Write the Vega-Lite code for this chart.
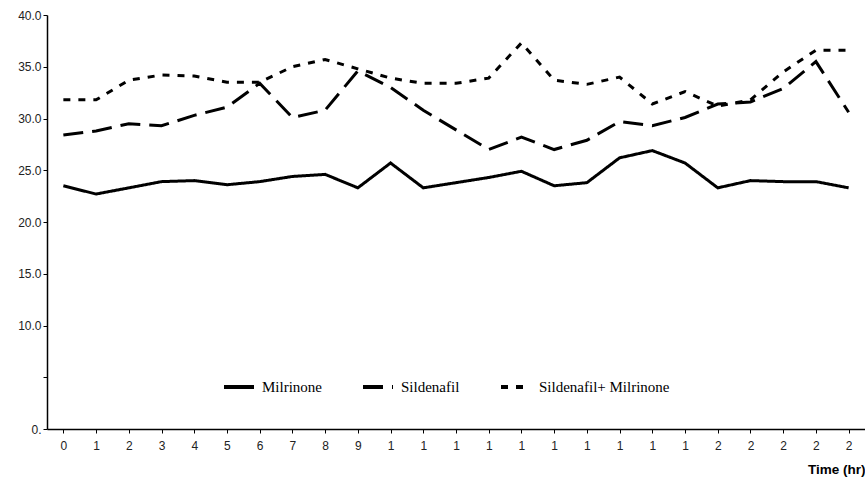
{
  "$schema": "https://vega.github.io/schema/vega-lite/v6.json",
  "autosize": {"type": "none"},
  "padding": {"left": 47, "top": 15, "right": 0, "bottom": 51},
  "width": 818,
  "height": 414,
  "background": "white",
  "config": {"view": {"stroke": null}},
  "datasets": {
    "d": [
      {"t": 0, "g": "Milrinone", "v": 23.5}, {"t": 1, "g": "Milrinone", "v": 22.7}, {"t": 2, "g": "Milrinone", "v": 23.3},
      {"t": 3, "g": "Milrinone", "v": 23.9}, {"t": 4, "g": "Milrinone", "v": 24.0}, {"t": 5, "g": "Milrinone", "v": 23.6},
      {"t": 6, "g": "Milrinone", "v": 23.9}, {"t": 7, "g": "Milrinone", "v": 24.4}, {"t": 8, "g": "Milrinone", "v": 24.6},
      {"t": 9, "g": "Milrinone", "v": 23.3}, {"t": 10, "g": "Milrinone", "v": 25.7}, {"t": 11, "g": "Milrinone", "v": 23.3},
      {"t": 12, "g": "Milrinone", "v": 23.8}, {"t": 13, "g": "Milrinone", "v": 24.3}, {"t": 14, "g": "Milrinone", "v": 24.9},
      {"t": 15, "g": "Milrinone", "v": 23.5}, {"t": 16, "g": "Milrinone", "v": 23.8}, {"t": 17, "g": "Milrinone", "v": 26.2},
      {"t": 18, "g": "Milrinone", "v": 26.9}, {"t": 19, "g": "Milrinone", "v": 25.7}, {"t": 20, "g": "Milrinone", "v": 23.3},
      {"t": 21, "g": "Milrinone", "v": 24.0}, {"t": 22, "g": "Milrinone", "v": 23.9}, {"t": 23, "g": "Milrinone", "v": 23.9},
      {"t": 24, "g": "Milrinone", "v": 23.3},
      {"t": 0, "g": "Sildenafil", "v": 28.4}, {"t": 1, "g": "Sildenafil", "v": 28.8}, {"t": 2, "g": "Sildenafil", "v": 29.5},
      {"t": 3, "g": "Sildenafil", "v": 29.3}, {"t": 4, "g": "Sildenafil", "v": 30.3}, {"t": 5, "g": "Sildenafil", "v": 31.1},
      {"t": 6, "g": "Sildenafil", "v": 33.4}, {"t": 7, "g": "Sildenafil", "v": 30.1}, {"t": 8, "g": "Sildenafil", "v": 30.8},
      {"t": 9, "g": "Sildenafil", "v": 34.6}, {"t": 10, "g": "Sildenafil", "v": 33.0}, {"t": 11, "g": "Sildenafil", "v": 30.8},
      {"t": 12, "g": "Sildenafil", "v": 28.9}, {"t": 13, "g": "Sildenafil", "v": 27.0}, {"t": 14, "g": "Sildenafil", "v": 28.2},
      {"t": 15, "g": "Sildenafil", "v": 27.0}, {"t": 16, "g": "Sildenafil", "v": 27.9}, {"t": 17, "g": "Sildenafil", "v": 29.7},
      {"t": 18, "g": "Sildenafil", "v": 29.3}, {"t": 19, "g": "Sildenafil", "v": 30.1}, {"t": 20, "g": "Sildenafil", "v": 31.4},
      {"t": 21, "g": "Sildenafil", "v": 31.6}, {"t": 22, "g": "Sildenafil", "v": 32.9}, {"t": 23, "g": "Sildenafil", "v": 35.5},
      {"t": 24, "g": "Sildenafil", "v": 30.6},
      {"t": 0, "g": "Sildenafil+ Milrinone", "v": 31.8}, {"t": 1, "g": "Sildenafil+ Milrinone", "v": 31.8}, {"t": 2, "g": "Sildenafil+ Milrinone", "v": 33.7},
      {"t": 3, "g": "Sildenafil+ Milrinone", "v": 34.2}, {"t": 4, "g": "Sildenafil+ Milrinone", "v": 34.1}, {"t": 5, "g": "Sildenafil+ Milrinone", "v": 33.5},
      {"t": 6, "g": "Sildenafil+ Milrinone", "v": 33.5}, {"t": 7, "g": "Sildenafil+ Milrinone", "v": 35.0}, {"t": 8, "g": "Sildenafil+ Milrinone", "v": 35.7},
      {"t": 9, "g": "Sildenafil+ Milrinone", "v": 34.8}, {"t": 10, "g": "Sildenafil+ Milrinone", "v": 33.9}, {"t": 11, "g": "Sildenafil+ Milrinone", "v": 33.4},
      {"t": 12, "g": "Sildenafil+ Milrinone", "v": 33.4}, {"t": 13, "g": "Sildenafil+ Milrinone", "v": 33.9}, {"t": 14, "g": "Sildenafil+ Milrinone", "v": 37.3},
      {"t": 15, "g": "Sildenafil+ Milrinone", "v": 33.7}, {"t": 16, "g": "Sildenafil+ Milrinone", "v": 33.3}, {"t": 17, "g": "Sildenafil+ Milrinone", "v": 34.0},
      {"t": 18, "g": "Sildenafil+ Milrinone", "v": 31.4}, {"t": 19, "g": "Sildenafil+ Milrinone", "v": 32.6}, {"t": 20, "g": "Sildenafil+ Milrinone", "v": 31.2},
      {"t": 21, "g": "Sildenafil+ Milrinone", "v": 31.8}, {"t": 22, "g": "Sildenafil+ Milrinone", "v": 34.5}, {"t": 23, "g": "Sildenafil+ Milrinone", "v": 36.6},
      {"t": 24, "g": "Sildenafil+ Milrinone", "v": 36.6}
    ]
  },
  "data": {"name": "d"},
  "mark": {"type": "line", "color": "black", "strokeWidth": 3, "strokeCap": "butt", "strokeJoin": "miter"},
  "encoding": {
    "x": {
      "field": "t", "type": "ordinal",
      "scale": {"paddingInner": 0, "paddingOuter": 0},
      "axis": {
        "title": "Time (hr)",
        "titleFont": "Liberation Sans", "titleFontSize": 13.5, "titleFontWeight": "bold", "titleColor": "black",
        "titleAnchor": "end", "titleAlign": "right", "titlePadding": 11,
        "labelAngle": 0, "labelFont": "Liberation Sans", "labelFontSize": 12, "labelColor": "#222",
        "labelExpr": "substring(datum.label, 0, 1)",
        "bandPosition": 0, "labelPadding": 7,
        "tickSize": 4, "tickColor": "black", "domainColor": "black", "domainWidth": 1.5, "grid": false
      }
    },
    "y": {
      "field": "v", "type": "quantitative",
      "scale": {"domain": [0, 40], "nice": false},
      "axis": {
        "title": null, "values": [0, 5, 10, 15, 20, 25, 30, 35, 40],
        "labelExpr": "datum.value == 0 ? '0.' : (datum.value == 5 ? '' : format(datum.value, '.1f'))",
        "labelFont": "Liberation Sans", "labelFontSize": 12, "labelColor": "#222",
        "tickSize": 4, "tickColor": "black", "domainColor": "black", "domainWidth": 1.5, "grid": false, "labelPadding": 2
      }
    },
    "strokeDash": {
      "field": "g", "type": "nominal",
      "scale": {"domain": ["Milrinone", "Sildenafil", "Sildenafil+ Milrinone"], "range": [[1, 0], [20, 9], [7, 8]]},
      "legend": {
        "title": null, "orient": "none", "legendX": 175, "legendY": 355, "direction": "horizontal",
        "symbolType": "stroke", "symbolSize": 900, "symbolStrokeWidth": 4, "symbolStrokeColor": "black",
        "labelFont": "Liberation Serif", "labelFontSize": 15, "labelColor": "black", "labelOffset": 6,
        "columnPadding": 33
      }
    }
  }
}
